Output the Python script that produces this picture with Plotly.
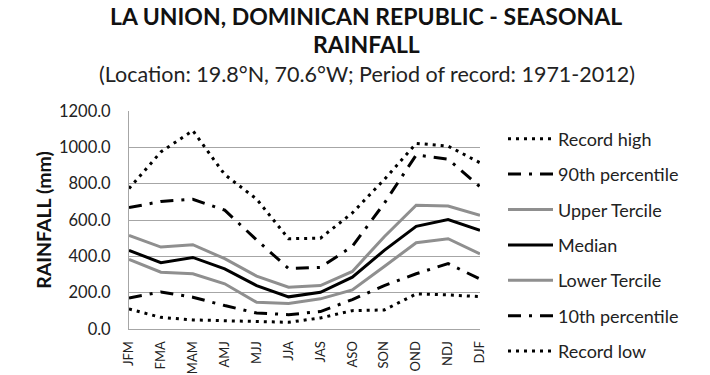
import plotly.graph_objects as go

seasons = ["JFM", "FMA", "MAM", "AMJ", "MJJ", "JJA", "JAS", "ASO", "SON", "OND", "NDJ", "DJF"]
record_high = [773, 975, 1092, 850, 715, 497, 500, 639, 823, 1022, 1007, 915]
p90 = [668, 702, 714, 654, 490, 333, 339, 455, 692, 958, 935, 783]
upper_tercile = [515, 451, 464, 387, 291, 230, 239, 317, 508, 681, 677, 626]
median = [433, 365, 394, 331, 239, 177, 202, 285, 433, 565, 602, 543]
lower_tercile = [383, 313, 304, 249, 147, 141, 166, 215, 344, 475, 497, 414]
p10 = [171, 204, 175, 129, 88, 79, 96, 162, 239, 304, 360, 275]
record_low = [110, 64, 50, 46, 42, 37, 61, 101, 105, 193, 188, 178]

FONT = "Lato"
GRAY = "#8f8f8f"
DASHDOT = "13px,8px,3px,8px"
DOTS = "3px,5px"

series = [
    ("Record high", record_high, "black", DOTS),
    ("90th percentile", p90, "black", DASHDOT),
    ("Upper Tercile", upper_tercile, GRAY, "solid"),
    ("Median", median, "black", "solid"),
    ("Lower Tercile", lower_tercile, GRAY, "solid"),
    ("10th percentile", p10, "black", DASHDOT),
    ("Record low", record_low, "black", DOTS),
]

fig = go.Figure()
for i, (name, vals, col, dash) in enumerate(series):
    fig.add_trace(go.Scatter(
        x=seasons, y=vals, name=name, mode="lines",
        line=dict(color=col, width=3, dash=dash),
        legendgroup=f"g{i}",
    ))

# the page body adds an 8px offset; figure sized to fit the 710x375 window
OFF = 8
W, H = 702, 367
L, R, T, B = 121, 230, 103, 46
pw = W - L - R
ph = H - T - B

def sx(p):
    return (p - OFF - L) / pw

def sy(p):
    return (H - B - (p - OFF)) / ph

fig.update_layout(
    width=W, height=H,
    margin=dict(l=L, r=R, t=T, b=B, pad=0, autoexpand=False),
    paper_bgcolor="white", plot_bgcolor="white",
    font=dict(family=FONT, color="#222"),
    showlegend=True,
    legend=dict(
        x=sx(503), xanchor="left", y=sy(120.5), yanchor="top",
        font=dict(family=FONT, size=18, color="#222"),
        tracegroupgap=9, itemwidth=45, bgcolor="rgba(0,0,0,0)",
        maxheight=340,
    ),
    xaxis=dict(
        type="category", tickangle=-90, showgrid=False, automargin=False,
        showline=True, linecolor="#a6a6a6", linewidth=1,
        ticks="", tickfont=dict(family=FONT, size=13, color="#222"),
        ticklabelstandoff=6,
    ),
    yaxis=dict(
        range=[0, 1200], dtick=200, tickformat=".1f", automargin=False,
        showgrid=True, gridcolor="#a6a6a6", gridwidth=1,
        showline=True, linecolor="#a6a6a6", linewidth=1,
        ticks="", tickfont=dict(family=FONT, size=16.5, color="#222"),
        ticklabelstandoff=14, zeroline=False,
        title=dict(text="<b>RAINFALL (mm)</b>", font=dict(family=FONT, size=19.5, color="#111"), standoff=2),
    ),
    annotations=[
        dict(text="<b>LA UNION, DOMINICAN REPUBLIC - SEASONAL</b>", x=sx(366), y=sy(16),
             xref="paper", yref="paper", showarrow=False, xanchor="center", yanchor="middle",
             font=dict(family=FONT, size=23, color="#111")),
        dict(text="<b>RAINFALL</b>", x=sx(366), y=sy(44),
             xref="paper", yref="paper", showarrow=False, xanchor="center", yanchor="middle",
             font=dict(family=FONT, size=23, color="#111")),
        dict(text="(Location: 19.8°N, 70.6°W; Period of record: 1971-2012)", x=sx(367), y=sy(73.5),
             xref="paper", yref="paper", showarrow=False, xanchor="center", yanchor="middle",
             font=dict(family=FONT, size=21.5, color="#222")),
    ],
    shapes=[
        dict(type="line", xref="paper", yref="paper", x0=sx(707.5), x1=sx(707.5), y0=sy(-20), y1=sy(400),
             line=dict(color="#808080", width=3), layer="above"),
    ],
)

fig.write_html("out.html")
